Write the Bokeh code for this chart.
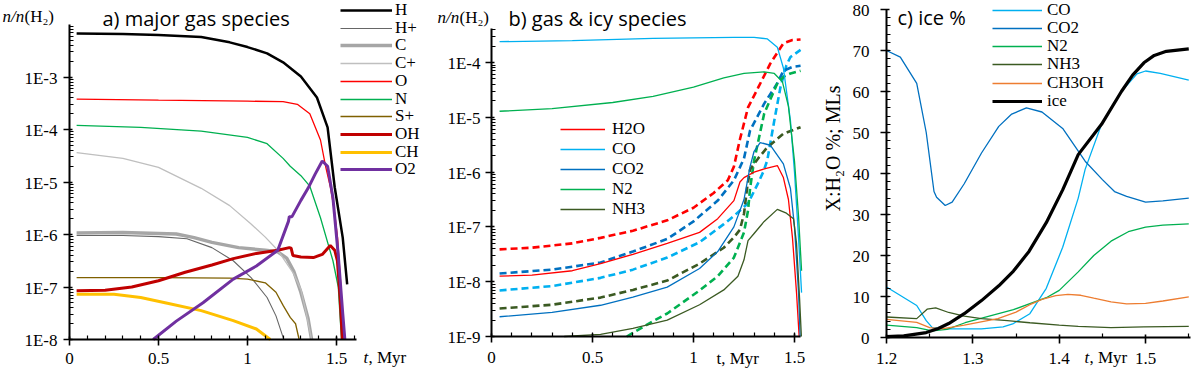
import numpy as np
from bokeh.plotting import figure
from bokeh.layouts import row
from bokeh.models import (Range1d, FixedTicker, CustomJSTickFormatter, Legend,
                          LegendItem, Label)
from bokeh.embed import file_html
from bokeh.resources import INLINE

SERIF = "'Liberation Serif', 'Times New Roman', serif"
LSERIF = "Liberation Serif"
SANS = "'Open Sans', sans-serif"

# ---------------- Panel a: major gas species (t in Myr, log10 n/n(H2)) -------------
a_t_H = [0.04, 0.3, 0.5, 0.74, 0.9, 1.0, 1.11, 1.2, 1.3, 1.39, 1.45, 1.49, 1.535, 1.56]
a_H = [-2.17, -2.18, -2.2, -2.24, -2.34, -2.43, -2.55, -2.72, -2.99, -3.39, -3.96, -5.1, -6.06, -6.95]
a_t_Hp = [0.04, 0.3, 0.5, 0.66, 0.8, 0.92, 1.02, 1.11, 1.16, 1.2, 1.203]
a_Hp = [-6.02, -6.02, -6.04, -6.08, -6.25, -6.5, -6.82, -7.2, -7.55, -7.96, -8.0]
a_t_C = [0.04, 0.3, 0.6, 0.7, 0.8, 0.95, 1.1, 1.17, 1.22, 1.26, 1.3, 1.34, 1.36]
a_C = [-5.97, -5.96, -5.99, -6.06, -6.15, -6.25, -6.3, -6.33, -6.45, -6.7, -7.1, -7.6, -8.0]
a_t_Cp = [0.04, 0.3, 0.5, 0.74, 0.9, 1.02, 1.1, 1.17, 1.26, 1.3, 1.33, 1.36]
a_Cp = [-4.44, -4.55, -4.72, -5.12, -5.45, -5.8, -6.05, -6.3, -6.75, -7.05, -7.5, -8.0]
a_t_O = [0.04, 0.5, 1.0, 1.2, 1.28, 1.35, 1.41, 1.44, 1.466, 1.49, 1.506, 1.525, 1.538]
a_O = [-3.42, -3.44, -3.46, -3.47, -3.52, -3.7, -4.2, -4.72, -5.1, -5.6, -6.06, -7.0, -8.0]
a_t_N = [0.04, 0.4, 0.74, 1.0, 1.11, 1.2, 1.24, 1.3, 1.35, 1.41, 1.48, 1.51, 1.528]
a_N = [-3.92, -3.96, -4.03, -4.15, -4.27, -4.55, -4.7, -4.88, -5.08, -5.68, -6.5, -7.0, -8.0]
a_t_Sp = [0.04, 0.5, 0.9, 1.0, 1.1, 1.16, 1.2, 1.24, 1.27, 1.29]
a_Sp = [-6.82, -6.82, -6.83, -6.85, -6.92, -7.1, -7.35, -7.58, -7.7, -8.0]
a_t_OH = [0.04, 0.2, 0.35, 0.5, 0.65, 0.8, 0.92, 1.05, 1.17, 1.235, 1.245, 1.255, 1.3, 1.37,
          1.42, 1.465, 1.49, 1.505, 1.52, 1.533]
a_OH = [-7.07, -7.06, -7.0, -6.88, -6.72, -6.58, -6.46, -6.36, -6.3, -6.25, -6.26, -6.4, -6.43,
        -6.44, -6.38, -6.21, -6.3, -6.5, -7.2, -8.0]
a_t_CH = [0.04, 0.25, 0.4, 0.55, 0.74, 0.92, 1.05, 1.128]
a_CH = [-7.14, -7.14, -7.2, -7.31, -7.45, -7.64, -7.8, -8.0]
a_t_O2 = [0.47, 0.6, 0.75, 0.92, 1.05, 1.17, 1.23, 1.235, 1.25, 1.3, 1.34, 1.38, 1.42, 1.45,
          1.48, 1.51, 1.535, 1.547]
a_O2 = [-8.0, -7.65, -7.3, -6.85, -6.6, -6.3, -5.75, -5.66, -5.66, -5.35, -5.12, -4.85, -4.6,
        -4.7, -5.3, -6.4, -7.5, -8.0]

# ---------------- Panel b: gas & icy species (solid = gas, dashed = ice) -------------
b_t_H2O_g = [0.04, 0.2, 0.4, 0.54, 0.7, 0.87, 1.03, 1.12, 1.2, 1.23, 1.25, 1.3, 1.36, 1.415,
             1.445, 1.47, 1.49, 1.51, 1.523]
b_H2O_g = [-7.9, -7.88, -7.8, -7.67, -7.5, -7.3, -7.1, -6.85, -6.52, -6.18, -6.1, -6.0, -5.93,
           -5.88, -6.1, -6.5, -7.2, -8.2, -9.0]
b_t_CO_g = [0.04, 0.4, 0.8, 1.0, 1.2, 1.3, 1.366, 1.415, 1.445, 1.48, 1.5, 1.52, 1.535]
b_CO_g = [-3.62, -3.6, -3.56, -3.55, -3.54, -3.54, -3.57, -3.72, -4.1, -5.06, -6.0, -7.2, -8.2]
b_t_CO2_g = [0.04, 0.3, 0.54, 0.7, 0.87, 1.03, 1.12, 1.2, 1.25, 1.28, 1.3, 1.33, 1.38, 1.445,
             1.48, 1.5, 1.52, 1.528]
b_CO2_g = [-8.64, -8.56, -8.43, -8.28, -8.1, -7.76, -7.45, -7.0, -6.5, -5.9, -5.62, -5.46, -5.51,
           -5.85, -6.3, -7.0, -8.2, -9.0]
b_t_N2_g = [0.04, 0.3, 0.6, 0.8, 1.0, 1.15, 1.25, 1.35, 1.4, 1.44, 1.47, 1.5, 1.52, 1.535]
b_N2_g = [-4.89, -4.84, -4.73, -4.62, -4.45, -4.28, -4.2, -4.17, -4.2, -4.35, -4.8, -5.8, -6.8, -7.8]
b_t_NH3_g = [0.36, 0.54, 0.7, 0.87, 1.03, 1.15, 1.22, 1.25, 1.27, 1.3, 1.35, 1.415, 1.46, 1.495,
             1.51, 1.525, 1.534]
b_NH3_g = [-9.0, -8.96, -8.85, -8.7, -8.42, -8.15, -7.9, -7.6, -7.25, -7.12, -6.9, -6.68, -6.75,
           -6.85, -7.3, -8.3, -9.0]

b_t_H2O_i = [0.04, 0.2, 0.4, 0.54, 0.7, 0.87, 1.0, 1.1, 1.17, 1.2, 1.23, 1.27, 1.32, 1.38, 1.445,
             1.49, 1.53]
b_H2O_i = [-7.41, -7.38, -7.3, -7.2, -7.07, -6.88, -6.65, -6.38, -6.15, -5.9, -5.4, -4.82, -4.46,
           -4.02, -3.65, -3.59, -3.58]
b_t_CO_i = [0.04, 0.3, 0.54, 0.7, 0.87, 1.03, 1.15, 1.2, 1.27, 1.32, 1.345, 1.365, 1.4, 1.43,
            1.46, 1.48, 1.53]
b_CO_i = [-8.16, -8.08, -7.93, -7.78, -7.56, -7.28, -6.95, -6.8, -6.57, -6.2, -6.0, -5.79, -5.06,
          -4.46, -4.05, -3.9, -3.77]
b_t_CO2_i = [0.04, 0.3, 0.54, 0.7, 0.87, 1.0, 1.12, 1.2, 1.25, 1.28, 1.35, 1.415, 1.445, 1.49, 1.53]
b_CO2_i = [-7.85, -7.78, -7.65, -7.45, -7.22, -6.9, -6.52, -6.15, -5.75, -5.24, -4.75, -4.38,
           -4.15, -4.08, -4.06]
b_t_N2_i = [0.67, 0.8, 0.87, 1.03, 1.12, 1.2, 1.25, 1.27, 1.28, 1.3, 1.35, 1.415, 1.45,
            1.48, 1.53]
b_N2_i = [-9.0, -8.72, -8.58, -8.16, -7.9, -7.56, -7.1, -6.7, -6.3, -5.79, -4.93, -4.38,
          -4.25, -4.2, -4.15]
b_t_NH3_i = [0.04, 0.3, 0.54, 0.7, 0.87, 1.03, 1.15, 1.2, 1.23, 1.25, 1.265, 1.28, 1.32, 1.365,
             1.445, 1.53]
b_NH3_i = [-8.49, -8.42, -8.29, -8.15, -7.98, -7.67, -7.38, -7.19, -7.05, -6.76, -6.3, -5.95,
           -5.75, -5.55, -5.3, -5.18]

# ---------------- Panel c: ice % (X:H2O %; MLs) -------------------------------------
c_t_CO = [1.2, 1.235, 1.246, 1.253, 1.27, 1.31, 1.335, 1.347, 1.366, 1.385, 1.404, 1.422, 1.43,
          1.449, 1.472, 1.49, 1.5, 1.517, 1.55]
c_CO = [12.3, 7.8, 4.1, 2.4, 2.1, 2.1, 2.6, 3.4, 5.8, 12, 22, 34, 41, 52, 60, 64.3, 65, 64.4, 62.8]
c_t_CO2 = [1.2, 1.216, 1.235, 1.246, 1.255, 1.258, 1.268, 1.276, 1.29, 1.31, 1.33, 1.345, 1.362,
           1.38, 1.404, 1.43, 1.45, 1.464, 1.478, 1.5, 1.52, 1.55]
c_CO2 = [70, 68.4, 62, 50, 35.6, 34.2, 32.2, 33, 37.5, 45, 51.5, 54.5, 56, 55, 51, 43, 38.5, 35.6,
         34.4, 33, 33.3, 34]
c_t_N2 = [1.2, 1.235, 1.253, 1.27, 1.291, 1.32, 1.347, 1.385, 1.4, 1.422, 1.44, 1.46, 1.48, 1.5,
          1.52, 1.55]
c_N2 = [3.0, 2.4, 1.6, 2.0, 3.6, 5.3, 6.8, 9.7, 11.5, 16, 20, 23.5, 25.8, 26.9, 27.4, 27.7]
c_t_NH3 = [1.2, 1.235, 1.247, 1.257, 1.272, 1.29, 1.31, 1.34, 1.366, 1.4, 1.422, 1.46, 1.498, 1.55]
c_NH3 = [5.0, 4.6, 6.9, 7.2, 6.1, 5.2, 4.6, 4.1, 3.6, 3.0, 2.7, 2.4, 2.6, 2.7]
c_t_CH3OH = [1.2, 1.235, 1.25, 1.264, 1.29, 1.329, 1.35, 1.366, 1.38, 1.396, 1.41, 1.425, 1.44,
             1.46, 1.478, 1.5, 1.52, 1.55]
c_CH3OH = [4.4, 3.7, 2.4, 2.1, 3.0, 4.6, 6.2, 8.0, 9.3, 10.2, 10.5, 10.3, 9.6, 8.7, 8.2, 8.3, 8.9, 9.9]
c_t_ice = [1.2, 1.22, 1.246, 1.26, 1.272, 1.29, 1.31, 1.33, 1.347, 1.365, 1.385, 1.404, 1.422,
           1.449, 1.472, 1.485, 1.498, 1.51, 1.524, 1.55]
c_ice = [0.2, 0.4, 1.2, 2.2, 3.4, 5.8, 9, 12.6, 16.2, 21, 28, 36, 44.6, 52, 60, 64, 67, 68.8, 69.8, 70.4]

# ticks and tick labels
a_xticks = [0, 0.5, 1, 1.5]
a_xlabels = ["0", "0.5", "1", "1.5"]
b_xticks = [0, 0.5, 1, 1.5]
b_xlabels = ["0", "0.5", "1", "1.5"]
c_xticks = [1.2, 1.3, 1.4, 1.5]
c_xlabels = ["1.2", "1.3", "1.4", "1.5"]
a_yticks = [1e-8, 1e-7, 1e-6, 1e-5, 1e-4, 1e-3]
a_ylabels = ["1E-8", "1E-7", "1E-6", "1E-5", "1E-4", "1E-3"]
b_yticks = [1e-9, 1e-8, 1e-7, 1e-6, 1e-5, 1e-4]
b_ylabels = ["1E-9", "1E-8", "1E-7", "1E-6", "1E-5", "1E-4"]
c_yticks = [0, 10, 20, 30, 40, 50, 60, 70, 80]
c_ylabels = ["0", "10", "20", "30", "40", "50", "60", "70", "80"]

H = 368


def span(v1, p1, v2, p2, size):
    s = (v2 - v1) / (p2 - p1)
    return v1 - p1 * s, v1 + (size - p1) * s


blank = CustomJSTickFormatter(code="return '';")


def make_fig(width, xanch, yanch, log, xbounds, ybounds):
    x0, x1 = span(xanch[0], xanch[1], xanch[2], xanch[3], width)
    if log:
        lo, hi = span(np.log10(yanch[0]), H - yanch[1], np.log10(yanch[2]), H - yanch[3], H)
        yr = Range1d(10 ** lo, 10 ** hi)
    else:
        lo, hi = span(yanch[0], H - yanch[1], yanch[2], H - yanch[3], H)
        yr = Range1d(lo, hi)
    p = figure(width=width, height=H, x_range=Range1d(x0, x1), y_range=yr,
               y_axis_type="log" if log else "linear",
               toolbar_location=None, output_backend="svg",
               min_border=0, min_border_left=0, min_border_right=0,
               min_border_top=0, min_border_bottom=0)
    p.title.visible = False
    p.xgrid.visible = False
    p.ygrid.visible = False
    p.outline_line_color = None
    p.background_fill_color = "white"
    p.border_fill_color = "white"
    p.xaxis.fixed_location = ybounds[0]
    p.xaxis.bounds = xbounds
    p.yaxis.fixed_location = xbounds[0]
    p.yaxis.bounds = ybounds
    for ax in (p.xaxis[0], p.yaxis[0]):
        ax.axis_line_width = 2
        ax.axis_line_color = "black"
        ax.major_tick_line_width = 1.6
        ax.major_tick_line_color = "black"
        ax.minor_tick_line_width = 1.2
        ax.minor_tick_line_color = "black"
        ax.major_tick_in = 3
        ax.major_tick_out = 6
        ax.minor_tick_in = 4
        ax.minor_tick_out = 0
        ax.formatter = blank
    return p


def lab(p, fx, fy, text, font=SERIF, size="17px", style="normal", angle=0.0,
        align="left", baseline="middle"):
    p.add_layout(Label(x=fx, y=H - fy, x_units="screen", y_units="screen",
                       text=text, text_font=font, text_font_size=size,
                       text_font_style=style, text_color="black", angle=angle,
                       text_align=align, text_baseline=baseline))


def xtick_labels(p, ticks, labels, ycenter):
    for t, s in zip(ticks, labels):
        p.add_layout(Label(x=t, y=H - ycenter, x_units="data", y_units="screen", text=s,
                           text_align="center", text_baseline="middle", text_font=SERIF,
                           text_font_size="17px", text_color="black"))


def ytick_labels(p, ticks, labels, xright):
    for t, s in zip(ticks, labels):
        p.add_layout(Label(x=xright, y=t, x_units="screen", y_units="data", text=s,
                           y_offset=-1, text_align="right", text_baseline="middle",
                           text_font=SERIF, text_font_size="17px", text_color="black"))


ROW = 20.0  # rendered height of a 17px legend row


def legend_rows(p, items, left, first, pitch, glyph_w, standoff):
    # one single-entry legend per row, so that the row pitch can match the reference
    for i, (k, r) in enumerate(items):
        centre = first + i * pitch
        bottom = centre - 1 + ROW / 2
        lg = Legend(items=[LegendItem(label=k, renderers=[r])],
                    location=(left, H - bottom), orientation="vertical",
                    glyph_width=glyph_w, glyph_height=16, label_height=16,
                    label_standoff=standoff, spacing=0, padding=0, margin=0,
                    label_text_font=LSERIF, label_text_font_size="17px",
                    label_text_font_style="normal",
                    label_text_color="black", border_line_alpha=0,
                    background_fill_alpha=0)
        p.add_layout(lg)


# ================= Panel a =================
pa = make_fig(422, (0, 69, 1.5, 336), (1e-2, 24, 1e-8, 339), True, (0, 1.61), (1e-8, 1e-2))
pa.xaxis.ticker = FixedTicker(ticks=a_xticks, minor_ticks=[i / 10 for i in range(1, 17)])
pa.yaxis.ticker = FixedTicker(ticks=a_yticks,
                              minor_ticks=[k * 10.0 ** e for e in range(-8, -2) for k in range(2, 10)])
xtick_labels(pa, a_xticks, a_xlabels, 358)
ytick_labels(pa, a_yticks, a_ylabels, 57)

a_series = [
    ("H", a_t_H, a_H, "black", 2.5),
    ("H+", a_t_Hp, a_Hp, "#666666", 1.1),
    ("C", a_t_C, a_C, "#a6a6a6", 3.5),
    ("C+", a_t_Cp, a_Cp, "#bfbfbf", 1.3),
    ("O", a_t_O, a_O, "#ff0000", 1.3),
    ("N", a_t_N, a_N, "#00b050", 1.3),
    ("S+", a_t_Sp, a_Sp, "#7f6000", 1.3),
    ("OH", a_t_OH, a_OH, "#c00000", 3.0),
    ("CH", a_t_CH, a_CH, "#ffc000", 3.0),
    ("O2", a_t_O2, a_O2, "#7030a0", 3.0),
]
a_items = []
for name, t, lv, col, w in a_series:
    r = pa.line(t, 10 ** np.array(lv), line_color=col, line_width=w)
    a_items.append((name, r))
legend_rows(pa, a_items, 340, 11, 17.7, 52, 3)
lab(pa, 102, 18, "a) major gas species", font=SANS, size="20px")
lab(pa, 2, 15.5, "n/n", style="italic")
lab(pa, 24, 15.5, "(H₂)")
lab(pa, 363, 357, "t", style="italic")
lab(pa, 368, 357, ", Myr")

# ================= Panel b =================
pb = make_fig(384, (0, 69, 1, 271), (1e-4, 62, 1e-9, 336), True, (0, 1.53), (1e-9, 4.2e-4))
pb.xaxis.ticker = FixedTicker(ticks=b_xticks, minor_ticks=[i / 10 for i in range(1, 16)])
pb.yaxis.ticker = FixedTicker(ticks=b_yticks,
                              minor_ticks=[k * 10.0 ** e for e in range(-9, -4) for k in range(2, 10)]
                              + [2e-4, 3e-4, 4e-4])
xtick_labels(pb, b_xticks, b_xlabels, 356.5)
ytick_labels(pb, b_yticks, b_ylabels, 58)

b_cols = {"H2O": "#ff0000", "CO": "#00b0f0", "CO2": "#0070c0", "N2": "#00b050", "NH3": "#3b5a22"}
b_gas = [("H2O", b_t_H2O_g, b_H2O_g), ("CO", b_t_CO_g, b_CO_g), ("CO2", b_t_CO2_g, b_CO2_g),
         ("N2", b_t_N2_g, b_N2_g), ("NH3", b_t_NH3_g, b_NH3_g)]
b_ice = [("H2O", b_t_H2O_i, b_H2O_i), ("CO", b_t_CO_i, b_CO_i), ("CO2", b_t_CO2_i, b_CO2_i),
         ("N2", b_t_N2_i, b_N2_i), ("NH3", b_t_NH3_i, b_NH3_i)]
for name, t, lv in b_ice:
    pb.line(t, 10 ** np.array(lv), line_color=b_cols[name], line_width=2.6, line_dash="7 4")
b_items = []
for name, t, lv in b_gas:
    r = pb.line(t, 10 ** np.array(lv), line_color=b_cols[name], line_width=1.3)
    b_items.append((name, r))
legend_rows(pb, b_items, 138, 130, 20, 45, 7)
lab(pb, 86, 18, "b) gas & icy species", font=SANS, size="20px")
lab(pb, 15, 16.5, "n/n", style="italic")
lab(pb, 37, 16.5, "(H₂)")
lab(pb, 294, 358, "t, Myr")

# ================= Panel c =================
pc = make_fig(386, (1.2, 80, 1.552, 384), (80, 9, 0, 337), False, (1.2, 1.552), (0, 80))
pc.xaxis.ticker = FixedTicker(ticks=c_xticks, minor_ticks=[1.25, 1.35, 1.45, 1.55])
pc.yaxis.ticker = FixedTicker(ticks=c_yticks, minor_ticks=list(range(2, 80, 2)))
xtick_labels(pc, c_xticks, c_xlabels, 357.5)
ytick_labels(pc, c_yticks, c_ylabels, 63)

c_series = [
    ("CO", c_t_CO, c_CO, "#00b0f0", 1.3),
    ("CO2", c_t_CO2, c_CO2, "#0070c0", 1.3),
    ("N2", c_t_N2, c_N2, "#00b050", 1.3),
    ("NH3", c_t_NH3, c_NH3, "#3b5a22", 1.3),
    ("CH3OH", c_t_CH3OH, c_CH3OH, "#ed7d31", 1.3),
    ("ice", c_t_ice, c_ice, "black", 3.2),
]
c_items = []
for name, t, v, col, w in c_series:
    r = pc.line(t, v, line_color=col, line_width=w)
    c_items.append((name, r))
legend_rows(pc, c_items, 186, 10.5, 18.3, 50, 5)
lab(pc, 91, 17, "c) ice %", font=SANS, size="20px")
lab(pc, 26, 148, "X:H₂O %; MLs", size="20px", angle=np.pi / 2, align="center")
lab(pc, 278, 357, "t", style="italic")
lab(pc, 283, 357, ", Myr")

layout = row(pa, pb, pc, spacing=0)
open("out.html", "w").write(file_html(layout, INLINE))
